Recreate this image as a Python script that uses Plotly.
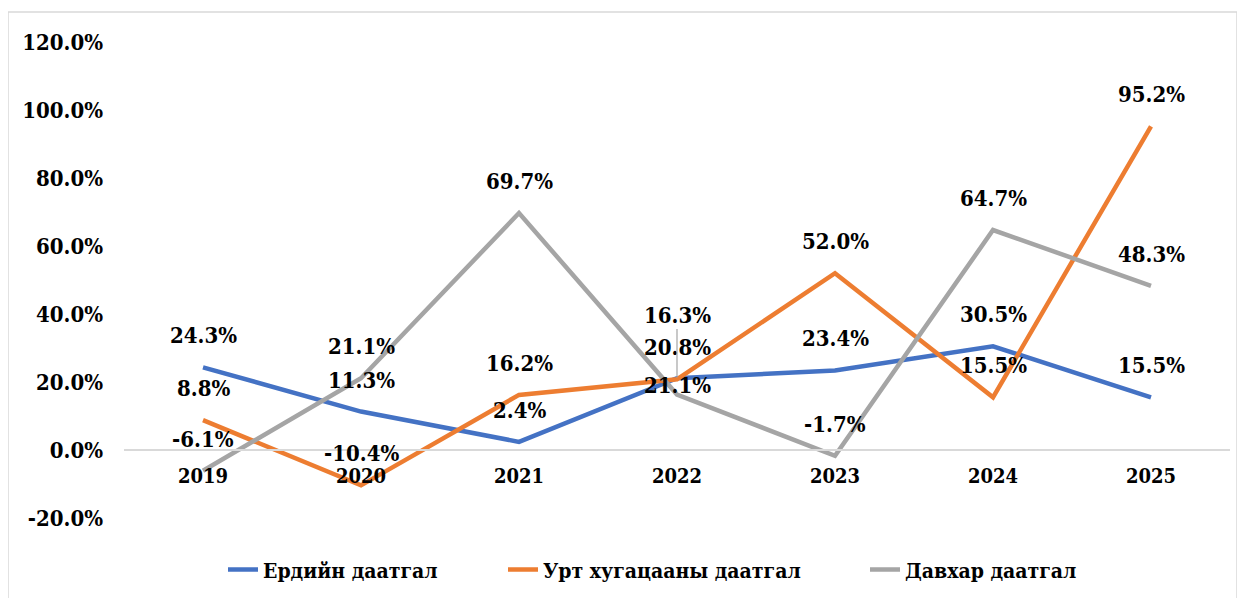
import plotly.graph_objects as go

years = ["2019", "2020", "2021", "2022", "2023", "2024", "2025"]
regular = [24.3, 11.3, 2.4, 21.1, 23.4, 30.5, 15.5]
long_term = [8.8, -10.4, 16.2, 20.8, 52.0, 15.5, 95.2]
reins = [-6.1, 21.1, 69.7, 16.3, -1.7, 64.7, 48.3]
names = ["Ердийн даатгал", "Урт хугацааны даатгал", "Давхар даатгал"]
colors = ["#4472C4", "#ED7D31", "#A5A5A5"]
y_ticks = [-20, 0, 20, 40, 60, 80, 100, 120]

FONT = "'DejaVu Serif Condensed', 'DejaVu Serif', serif"
LBL = 22

L, T = 116, 34
PW, PH = 1106, 476

def px_x(page_x):
    return (page_x - 8 - L) / PW

fig = go.Figure()
series = [regular, long_term, reins]
legend_ids = ["legend", "legend2", "legend3"]
for vals, name, col, lg in zip(series, names, colors, legend_ids):
    fig.add_trace(go.Scatter(x=list(range(len(years))), y=vals, name=name, mode="lines",
                             line=dict(color=col, width=4.5), legend=lg))

for si, vals in enumerate(series):
    for i, v in enumerate(vals):
        kw = dict(x=i, y=v, xref="x", yref="y", text=f"{v:.1f}%", showarrow=False,
                  font=dict(family=FONT, size=LBL, color="black", weight="bold"),
                  yanchor="middle", xanchor="center", yshift=32)
        if years[i] == "2022" and si == 0:
            kw["yshift"] = -7
        if years[i] == "2022" and si == 2:
            kw.update(showarrow=True, ax=0, ay=-80, arrowhead=0, arrowwidth=1.2,
                      arrowcolor="#A5A5A5", standoff=17, yshift=0)
        fig.add_annotation(**kw)

legfont = dict(family=FONT, size=21, color="black", weight="bold")
leg_y = -0.109
def leg(xpage):
    return dict(orientation="h", x=px_x(xpage), xanchor="left", y=leg_y, yanchor="middle",
                font=legfont, bgcolor="rgba(0,0,0,0)")

W, H = 1237, 590
fig.update_layout(
    width=W, height=H,
    margin=dict(l=L, r=W - L - PW, t=T, b=H - T - PH, autoexpand=False),
    paper_bgcolor="white", plot_bgcolor="white",
    font=dict(family=FONT, size=LBL, color="black", weight="bold"),
    showlegend=True,
    legend=leg(223), legend2=leg(503), legend3=leg(865),
    shapes=[dict(type="rect", xref="paper", yref="paper",
                 x0=-L / PW, x1=(1229 - L) / PW,
                 y0=(T + PH - 600) / PH, y1=(T + PH - 4) / PH,
                 line=dict(color="#d9d9d9", width=1.5), fillcolor="rgba(0,0,0,0)",
                 layer="below")],
    xaxis=dict(range=[-0.5, 6.5], tickvals=list(range(len(years))), ticktext=years,
               anchor="free", position=20 / 140,
               showline=True, linecolor="#d9d9d9", linewidth=1.5, showgrid=False,
               ticks="", zeroline=False, ticklabelstandoff=8,
               tickfont=dict(family=FONT, size=20, color="black", weight="bold")),
    yaxis=dict(range=[-20, 120], tickvals=y_ticks, ticktext=[f"{v:.1f}%" for v in y_ticks],
               showgrid=False, zeroline=False, showline=False, ticks="",
               ticklabelstandoff=20,
               tickfont=dict(family=FONT, size=LBL, color="black", weight="bold")),
)
fig.write_html("out.html")
